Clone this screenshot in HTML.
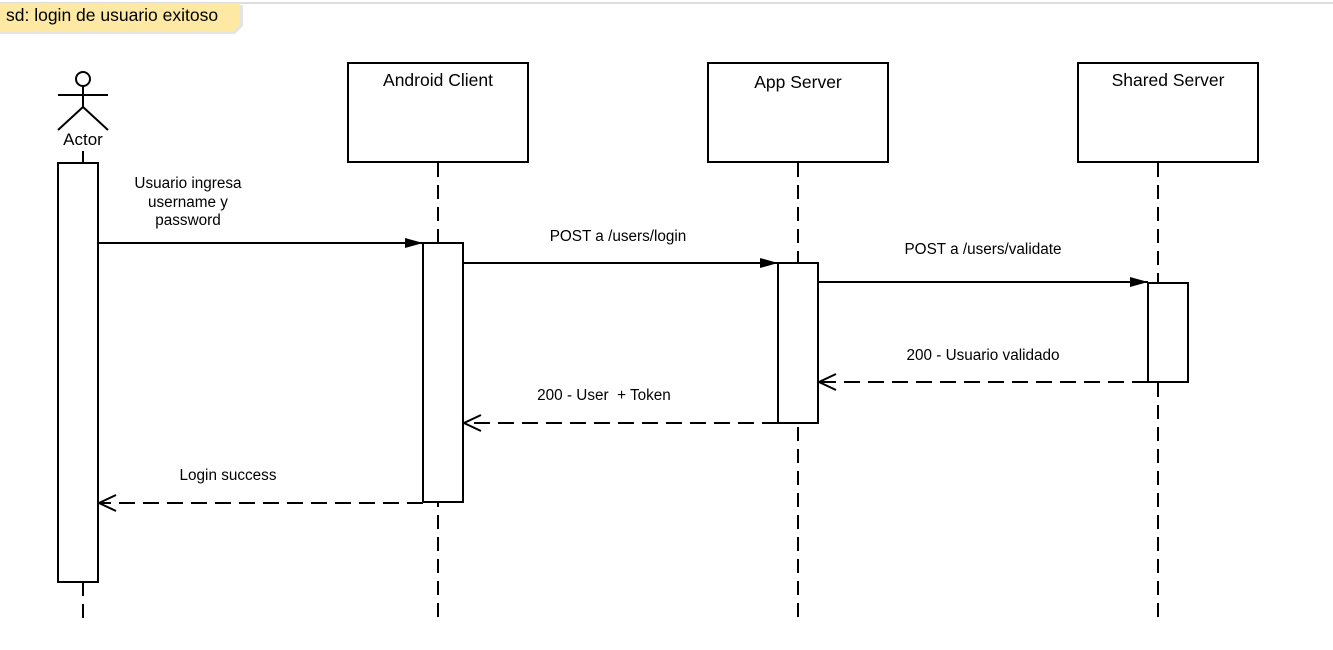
<!DOCTYPE html>
<html><head><meta charset="utf-8"><style>
html,body{margin:0;padding:0;background:#fff;}
svg{display:block;font-family:"Liberation Sans",sans-serif;}
</style></head><body>
<svg width="1333" height="650" viewBox="0 0 1333 650" xmlns="http://www.w3.org/2000/svg">
<defs>
<marker id="fa" markerWidth="20" markerHeight="14" refX="18" refY="7" orient="auto" markerUnits="userSpaceOnUse"><path d="M0,2 L18,7 L0,12 Z" fill="#000"/></marker>
<marker id="oa" markerWidth="22" markerHeight="20" refX="19" refY="10" orient="auto" markerUnits="userSpaceOnUse"><path d="M2,2 L19,10 L2,18" fill="none" stroke="#000" stroke-width="2"/></marker>
</defs>
<line x1="0" y1="3" x2="1333" y2="3" stroke="#ddd" stroke-width="2"/>
<path d="M0,5 L243,5 L243,26 L235,34 L0,34 Z" fill="#e4e4e4"/>
<path d="M0,3 L240,3 L240,25 L233,32 L0,32 Z" fill="#fde9a4"/>
<text x="6" y="21" font-size="17.5" fill="#000">sd: login de usuario exitoso</text>
<g stroke="#000" stroke-width="2" fill="none">
<circle cx="83" cy="79" r="7"/>
<line x1="83" y1="86" x2="83" y2="107"/>
<line x1="58" y1="95" x2="108" y2="95"/>
<line x1="83" y1="107" x2="58" y2="130"/>
<line x1="83" y1="107" x2="108" y2="130"/>
<line x1="83" y1="151" x2="83" y2="163"/>
</g>
<text x="83" y="145" font-size="17" text-anchor="middle">Actor</text>
<g stroke="#000" stroke-width="2" stroke-dasharray="14,8">
<line x1="83" y1="582" x2="83" y2="625"/>
<line x1="438" y1="163" x2="438" y2="625"/>
<line x1="798" y1="163" x2="798" y2="625"/>
<line x1="1158" y1="163" x2="1158" y2="625"/>
</g>
<g stroke="#000" stroke-width="2" fill="#fff">
<rect x="348" y="63" width="180" height="99"/>
<rect x="708" y="63" width="180" height="99"/>
<rect x="1078" y="63" width="180" height="99"/>
<rect x="58" y="163" width="40" height="419"/>
<rect x="423" y="243" width="40" height="259"/>
<rect x="778" y="263" width="40" height="160"/>
<rect x="1148" y="283" width="40" height="99"/>
</g>
<g font-size="17.5" text-anchor="middle">
<text x="438" y="86">Android Client</text>
<text x="798" y="88">App Server</text>
<text x="1168" y="86">Shared Server</text>
</g>
<g font-size="15.3" text-anchor="middle">
<text x="188" y="188">Usuario ingresa</text>
<text x="188" y="207">username y</text>
<text x="188" y="225">password</text>
<text x="618" y="241">POST a /users/login</text>
<text x="983" y="254">POST a /users/validate</text>
<text x="983" y="360">200 - Usuario validado</text>
<text x="604" y="400" xml:space="preserve">200 - User  + Token</text>
<text x="228" y="480">Login success</text>
</g>
<g stroke="#000" stroke-width="2" fill="none">
<line x1="98" y1="243" x2="423" y2="243" marker-end="url(#fa)"/>
<line x1="463" y1="263" x2="778" y2="263" marker-end="url(#fa)"/>
<line x1="818" y1="282" x2="1148" y2="282" marker-end="url(#fa)"/>
<line x1="1148" y1="382" x2="819" y2="382" stroke-dasharray="16,8" marker-end="url(#oa)"/>
<line x1="778" y1="423" x2="464" y2="423" stroke-dasharray="16,8" marker-end="url(#oa)"/>
<line x1="423" y1="503" x2="99" y2="503" stroke-dasharray="16,8" marker-end="url(#oa)"/>
</g>
</svg>
</body></html>
